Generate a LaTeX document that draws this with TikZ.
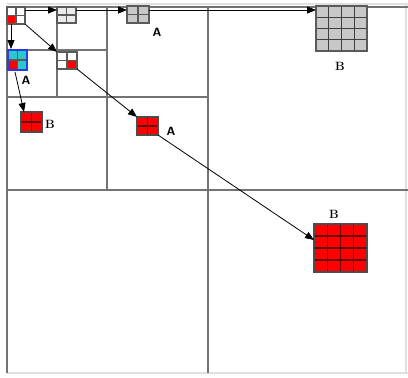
\documentclass[tikz,border=0pt]{standalone}
\usetikzlibrary{arrows.meta,calc}

% block of n x n cells: name, x, y, width, height, base fill
\newcommand{\qblock}[6]{%
  \node[inner sep=0pt, outer sep=0pt, minimum width=#4pt, minimum height=#5pt,
        anchor=north west, fill=#6] (#1) at (#2,#3) {};}
% grid lines and border of a block: name, n, line colour, border colour
\newcommand{\qlines}[4]{%
  \foreach \k in {1,...,\numexpr#2-1\relax}{%
    \draw[#3, line width=1.1pt] ($(#1.north west)!\k/#2!(#1.north east)$) -- ($(#1.south west)!\k/#2!(#1.south east)$);
    \draw[#3, line width=1.1pt] ($(#1.north west)!\k/#2!(#1.south west)$) -- ($(#1.north east)!\k/#2!(#1.south east)$);
  }%
  \draw[#4, line width=1.1pt] (#1.north west) rectangle (#1.south east);}

\definecolor{tilegray}{RGB}{200,200,200}
\definecolor{tileline}{RGB}{90,90,90}
\definecolor{tilered}{RGB}{255,0,0}
\definecolor{tiledark}{RGB}{100,0,0}
\definecolor{tilecyan}{RGB}{40,200,205}
\definecolor{tileblue}{RGB}{40,60,230}

\begin{document}
\begin{tikzpicture}[x=1pt, y=-1pt,
  frame/.style={draw=black!55, line width=1.8pt},
  faint/.style={draw=black!12, line width=1.4pt},
  link/.style={draw=black, line width=0.8pt, -{Triangle[length=9pt,width=7pt]}},
  lblA/.style={font=\sffamily\bfseries\fontsize{12}{14}\selectfont, inner sep=0pt},
  lblB/.style={font=\rmfamily\bfseries\fontsize{12}{14}\selectfont, inner sep=0pt}]

\useasboundingbox[fill=white] (0,0) rectangle (408,378);

% quadtree frame
\draw[faint] (7,373) -- (408,373);
\draw[faint] (406,5) -- (406,373);
\draw[faint] (7,4) -- (408,4);
\draw[frame] (7,7) -- (408,7);
\draw[frame] (7,6) -- (7,373);
\draw[frame] (208,6) -- (208,373);
\draw[frame] (7,190) -- (408,190);
\draw[frame] (107,6) -- (107,190);
\draw[frame] (7,97) -- (208,97);
\draw[frame] (57,6) -- (57,97);
\draw[frame] (7,50) -- (107,50);

% smallest tile, red texel bottom left
\qblock{t0}{7}{7}{18}{17}{white}
\fill[tilered] (t0.west) rectangle (t0.south);
\qlines{t0}{2}{tileline}{tileline}

% grey tiles along the top row
\qblock{g1}{57}{7}{19}{16}{black!8}
\qlines{g1}{2}{tileline}{tileline}
\qblock{g2}{127}{6}{22}{17}{tilegray}
\qlines{g2}{2}{tileline}{tileline}
\qblock{g3}{316}{6}{51}{45}{tilegray}
\qlines{g3}{4}{black!75}{tileline}

% cyan tile with one red texel
\qblock{c1}{8}{50}{19}{20}{tilecyan}
\fill[tilered] (c1.west) rectangle (c1.south);
\qlines{c1}{2}{tileline}{tileblue}

% white tile, red texel bottom right
\qblock{s1}{57}{52}{20}{17}{white}
\fill[tilered] (s1.center) rectangle (s1.south east);
\qlines{s1}{2}{tileline}{tileline}

% red tiles
\qblock{r1}{21}{112}{21}{20}{tilered}
\qlines{r1}{2}{tiledark}{black!70}
\qblock{r2}{137}{117}{21}{18}{tilered}
\qlines{r2}{2}{tiledark}{black!70}
\qblock{r3}{314}{224}{53}{48}{tilered}
\qlines{r3}{4}{tiledark}{black!70}

% labels
\node[lblA] (la1) at (26,80) {A};
\node[lblA] (la2) at (157,32) {A};
\node[lblB] (lb1) at (340,66) {B};
\node[lblB] (lb2) at (50,124) {B};
\node[lblA] (la3) at (171,131) {A};
\node[lblB] (lb3) at (334,214) {B};

% connectors
\draw[link] ($(t0.north east)+(0,3)$) -- ($(g1.north west)+(0,3)$);
\draw[link] ($(g1.north east)+(0,3)$) -- ($(g2.north west)+(0,4)$);
\draw[link] ($(g2.north east)+(0,4)$) -- ($(g3.north west)+(0,4)$);
\draw[link] ($(t0.south west)+(4,0)$) -- ($(c1.north west)+(3,-1)$);
\draw[link] (t0.south east) -- (s1.north west);
\draw[link] ($(c1.south west)+(7,2)$) -- ($(r1.north west)+(3,0)$);
\draw[link] (s1.south east) -- (r2.north west);
\draw[link] (r2.south east) -- ($(r3.north west)+(0,16)$);

\end{tikzpicture}
\end{document}
